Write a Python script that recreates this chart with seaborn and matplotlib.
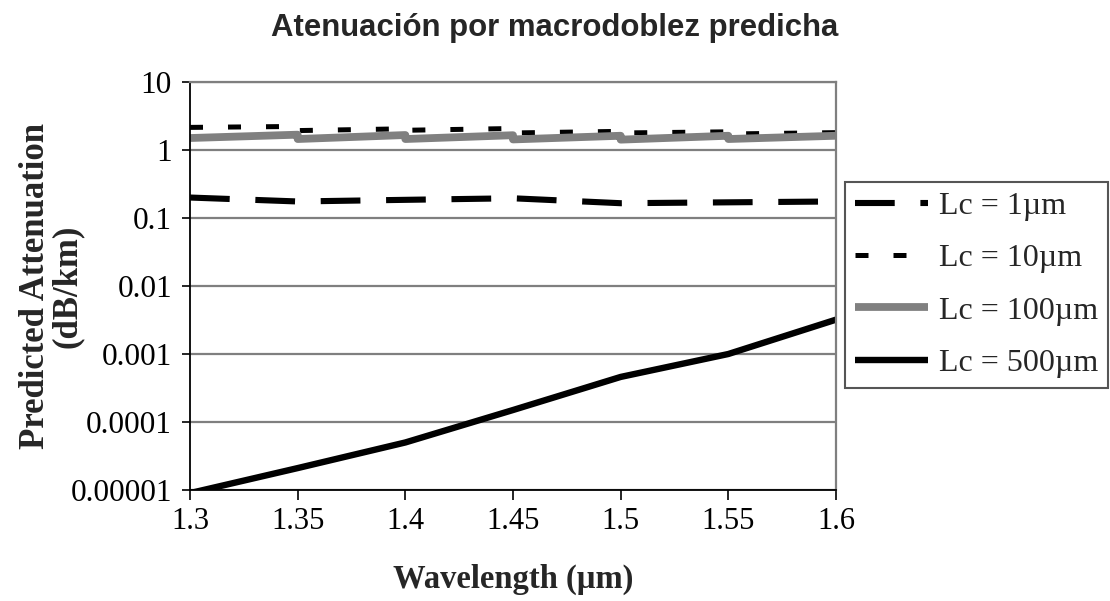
import matplotlib
matplotlib.use("Agg")
import matplotlib.pyplot as plt
import numpy as np
import pandas as pd
import seaborn as sns
from matplotlib.ticker import FixedLocator, FixedFormatter, NullLocator

# Wavelength grid (µm)
wl_grid = [1.3, 1.35, 1.4, 1.45, 1.5, 1.55, 1.6]

# Lc = 1 µm
lc1_wl = wl_grid
lc1_att = [0.20, 0.175, 0.185, 0.195, 0.165, 0.17, 0.175]

# Lc = 10 µm (each band given by its start and end value)
lc10_wl = [1.3, 1.35, 1.35, 1.4, 1.4, 1.45, 1.45, 1.5, 1.5, 1.55, 1.55, 1.6]
lc10_att = [2.15, 2.22, 1.93, 2.05, 1.95, 2.07, 1.78, 1.88, 1.78, 1.85, 1.72, 1.80]

# Lc = 100 µm
lc100_wl = [1.3, 1.35, 1.35, 1.4, 1.4, 1.45, 1.45, 1.5, 1.5, 1.55, 1.55, 1.6]
lc100_att = [1.50, 1.68, 1.45, 1.66, 1.45, 1.65, 1.43, 1.62, 1.42, 1.62, 1.45, 1.62]

# Lc = 500 µm
lc500_wl = wl_grid
lc500_att = [9e-6, 2.1e-5, 5e-5, 1.5e-4, 4.6e-4, 1.0e-3, 3.2e-3]

series_labels = ["Lc = 1µm", "Lc = 10µm", "Lc = 100µm", "Lc = 500µm"]

x_ticks = [1.3, 1.35, 1.4, 1.45, 1.5, 1.55, 1.6]
x_tick_labels = ["1.3", "1.35", "1.4", "1.45", "1.5", "1.55", "1.6"]
y_ticks = [1e-5, 1e-4, 1e-3, 1e-2, 1e-1, 1, 10]
y_tick_labels = ["0.00001", "0.0001", "0.001", "0.01", "0.1", "1", "10"]

sns.set_style("ticks")
plt.rcParams["font.family"] = ["Liberation Serif", "DejaVu Serif"]

fig = plt.figure(figsize=(11.10, 6.01), dpi=100)
ax = fig.add_axes([190 / 1110, 1 - 490 / 601, (836 - 190) / 1110, (490 - 82) / 601])

frames = []
for lab, xs, ys in zip(series_labels,
                       [lc1_wl, lc10_wl, lc100_wl, lc500_wl],
                       [lc1_att, lc10_att, lc100_att, lc500_att]):
    frames.append(pd.DataFrame({"wl": xs, "att": ys, "Lc": lab,
                                "order": np.arange(len(xs))}))
df = pd.concat(frames, ignore_index=True)

styles = {
    "Lc = 1µm": dict(color="black", lw=4.4, dashes=(6.5, 4.2)),
    "Lc = 10µm": dict(color="black", lw=3.6, dashes=(2.6, 5.0)),
    "Lc = 100µm": dict(color="#808080", lw=5.6, dashes=None),
    "Lc = 500µm": dict(color="black", lw=4.6, dashes=None),
}

for lab in series_labels:
    sub = df[df["Lc"] == lab]
    st = styles[lab]
    sns.lineplot(data=sub, x="wl", y="att", ax=ax, estimator=None, sort=False,
                 color=st["color"], linewidth=st["lw"], label=lab)
    line = ax.lines[-1]
    if st["dashes"] is not None:
        line.set_dashes(st["dashes"])
    line.set_solid_capstyle("butt")

ax.set_yscale("log")
ax.set_xlim(1.3, 1.6)
ax.set_ylim(1e-5, 10)
ax.xaxis.set_major_locator(FixedLocator(x_ticks))
ax.xaxis.set_major_formatter(FixedFormatter(x_tick_labels))
ax.yaxis.set_major_locator(FixedLocator(y_ticks))
ax.yaxis.set_major_formatter(FixedFormatter(y_tick_labels))
ax.yaxis.set_minor_locator(NullLocator())
ax.xaxis.set_minor_locator(NullLocator())

ax.yaxis.grid(True, color="#7f7f7f", linewidth=1.6)
ax.xaxis.grid(False)
ax.set_axisbelow(True)

for side in ["top", "right"]:
    ax.spines[side].set_visible(True)
    ax.spines[side].set_color("#7f7f7f")
    ax.spines[side].set_linewidth(1.6)
for side in ["left", "bottom"]:
    ax.spines[side].set_color("black")
    ax.spines[side].set_linewidth(1.3)

ax.tick_params(axis="x", direction="out", length=7, width=1.2, colors="black",
               labelsize=22, pad=5)
ax.tick_params(axis="y", direction="out", length=6, width=1.2, colors="black",
               labelsize=22.5, pad=7)

ax.set_xlabel("Wavelength (µm)", fontsize=23.5, fontweight="bold", labelpad=20)
ax.set_ylabel("Predicted Attenuation\n(dB/km)", fontsize=25, fontweight="bold",
              linespacing=0.95)
ax.yaxis.set_label_coords(-0.164, 0.5)

fig.suptitle("Atenuación por macrodoblez predicha", x=0.5, y=1 - 28 / 601,
             va="center", fontsize=22.4, fontweight="bold",
             family=["Liberation Sans", "DejaVu Sans"])

leg = ax.legend(loc="upper left", bbox_to_anchor=(845 / 1110, 1 - 182 / 601),
                bbox_transform=fig.transFigure, borderaxespad=0,
                frameon=True, fancybox=False, shadow=False, framealpha=1,
                fontsize=23, handlelength=2.3, handletextpad=0.35,
                labelspacing=0.72, borderpad=0.3)
leg.get_frame().set_edgecolor("#555555")
leg.get_frame().set_linewidth(1.5)

fig.savefig("out.png", dpi=100)
